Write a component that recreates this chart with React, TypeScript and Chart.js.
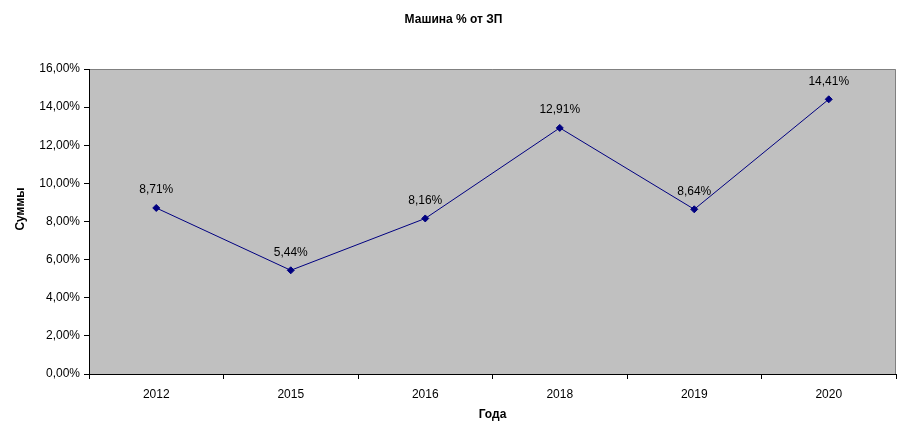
import React, { useEffect, useRef } from "react";
import { Chart, registerables } from "chart.js";

Chart.register(...registerables);

const categories = ["2012", "2015", "2016", "2018", "2019", "2020"];
const values = [8.71, 5.44, 8.16, 12.91, 8.64, 14.41];
const yTicks = [0, 2, 4, 6, 8, 10, 12, 14, 16];
const chartTitle = "Машина % от ЗП";
const xTitle = "Года";
const yTitle = "Суммы";

const fmt = (v: number) => v.toFixed(2).replace(".", ",") + "%";
const FONT = "'Liberation Sans', Arial, sans-serif";

export default function App() {
  const ref = useRef<HTMLCanvasElement | null>(null);
  useEffect(() => {
    if (!ref.current) return;
    const decor = {
      id: "decor",
      beforeDraw(chart: any) {
        const { ctx, chartArea: a } = chart;
        ctx.save();
        ctx.fillStyle = "#C0C0C0";
        ctx.fillRect(a.left, a.top, a.right - a.left, a.bottom - a.top);
        ctx.strokeStyle = "#808080";
        ctx.lineWidth = 1;
        ctx.beginPath();
        ctx.moveTo(a.left, a.top + 0.5);
        ctx.lineTo(a.right - 0.5, a.top + 0.5);
        ctx.lineTo(a.right - 0.5, a.bottom);
        ctx.stroke();
        ctx.restore();
      },
      afterDraw(chart: any) {
        const { ctx, chartArea: a } = chart;
        ctx.save();
        ctx.fillStyle = "#000";
        ctx.textAlign = "center";
        ctx.textBaseline = "middle";
        ctx.font = "bold 12px " + FONT;
        ctx.fillText(chartTitle, chart.width / 2, 20);
        ctx.fillText(xTitle, (a.left + a.right) / 2, 415);
        ctx.save();
        ctx.translate(21, 209);
        ctx.rotate(-Math.PI / 2);
        ctx.fillText(yTitle, 0, 0);
        ctx.restore();
        ctx.font = "12px " + FONT;
        const meta = chart.getDatasetMeta(0);
        meta.data.forEach((pt: any, i: number) => {
          ctx.fillText(fmt(values[i]), pt.x, pt.y - 18);
        });
        ctx.restore();
      },
    };
    const chart = new Chart(ref.current, {
      type: "line",
      data: {
        labels: categories,
        datasets: [
          {
            data: values,
            borderColor: "#000080",
            backgroundColor: "#000080",
            borderWidth: 1,
            pointStyle: "rectRot",
            pointRadius: 3.5,
            pointBorderWidth: 1,
            tension: 0,
          },
        ],
      },
      options: {
        animation: false,
        responsive: false,
        devicePixelRatio: 1,
        layout: { padding: { top: 69, right: 11, left: 0, bottom: 0 } },
        plugins: {
          legend: { display: false },
          title: { display: false },
          tooltip: { enabled: false },
        },
        scales: {
          x: {
            offset: true,
            grid: {
              offset: true,
              drawOnChartArea: false,
              tickLength: 5,
              color: "#000",
            },
            border: { color: "#000", width: 1 },
            ticks: { color: "#000", font: { family: FONT, size: 12 }, padding: 8 },
            afterFit(s: any) {
              s.height = 63;
            },
          },
          y: {
            min: 0,
            max: 16,
            afterBuildTicks(s: any) {
              s.ticks = yTicks.map((v) => ({ value: v }));
            },
            grid: {
              drawOnChartArea: false,
              tickLength: 5,
              color: "#000",
            },
            border: { color: "#000", width: 1 },
            ticks: {
              color: "#000",
              font: { family: FONT, size: 12 },
              padding: 4,
              callback: (v: any) => fmt(Number(v)),
            },
            afterFit(s: any) {
              s.width = 89;
            },
          },
        },
      },
      plugins: [decor],
    });
    return () => chart.destroy();
  }, []);
  return (
    <div style={{ position: "fixed", left: 0, top: 0, width: 907, height: 437, background: "#fff" }}>
      <canvas ref={ref} width={907} height={437} style={{ width: 907, height: 437 }} />
    </div>
  );
}
